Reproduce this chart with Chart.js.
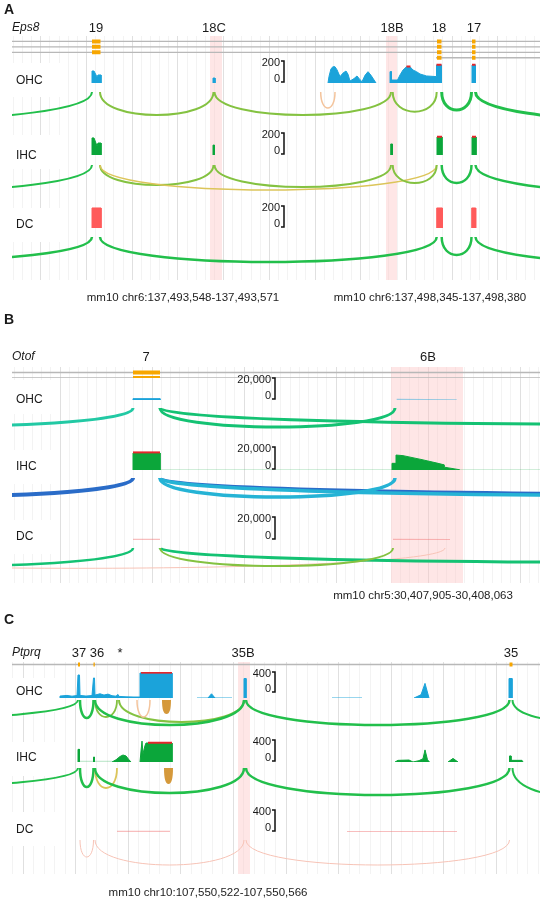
<!DOCTYPE html>
<html>
<head>
<meta charset="utf-8">
<script src="https://cdn.jsdelivr.net/npm/chart.js@4.4.1/dist/chart.umd.min.js"></script>
<style>
  body { margin: 0; background: #fff; width: 540px; height: 900px; position: relative; overflow: hidden; }
  canvas { position: absolute; left: 0; }
</style>
</head>
<body>
<canvas id="panelA" width="540" height="305" style="top:0px"></canvas>
<canvas id="panelB" width="540" height="300" style="top:305px"></canvas>
<canvas id="panelC" width="540" height="295" style="top:605px"></canvas>
<script>
// x values are positions along each locus window (0..528), coverage in reads,
// junctions: [from, to, arc depth, reads, colour class]

// ---------- A: Eps8 ----------
const epsExonLabels = ['19', '18C', '18B', '18', '17'];
const epsExonLabelX = [84, 202, 380, 427, 462];
const epsTranscripts = [[0, 528, 1], [0, 528, 2], [0, 528, 3], [424, 528, 4]];
const epsExons = [
  [80, 88.5, 1], [425, 429.5, 1], [460, 463.5, 1],
  [80, 88.5, 2], [425, 429.5, 2], [460, 463.5, 2],
  [80, 88.5, 3], [425, 429.5, 3], [460, 463.5, 3],
  [425, 429.5, 4], [460, 463.5, 4]
];
const epsHighlight = [[198, 210], [374, 385]];
const epsCovOHC = [
  [[80, 0], [80, 109], [82, 109], [85, 55], [86, 73], [89, 73], [89, 0]],
  [[201, 0], [201, 45], [203, 45], [203, 0]],
  [[316, 0], [317, 60], [319, 130], [321, 148], [323, 148], [325, 120], [328, 58], [331, 90], [334, 109], [336, 80], [338, 18], [342, 40], [345, 64], [348, 30], [350, 12], [353, 70], [356, 103], [359, 70], [364, 0]],
  [[378, 0], [378, 103], [379.5, 103], [379.5, 27], [385.5, 27], [388, 73], [391, 118], [394.5, 148], [398, 148], [401, 118], [404.5, 103], [408, 82], [414.5, 64], [424.5, 58], [424.5, 164], [429.5, 164], [429.5, 0]],
  [[460, 0], [460, 164], [463.5, 164], [463.5, 0]]
];
const epsClipOHC = [[[394.5, 150], [398.5, 150]], [[424.5, 166], [429.5, 166]], [[460, 166], [463.5, 166]]];
const epsCovIHC = [
  [[80, 0], [80, 155], [82, 155], [85, 82], [86, 109], [89, 109], [89, 0]],
  [[201, 0], [201, 90], [202.5, 90], [202.5, 0]],
  [[378.7, 0], [378.7, 100], [380.5, 100], [380.5, 0]],
  [[425, 0], [425, 164], [430, 164], [430, 0]],
  [[460, 0], [460, 164], [464, 164], [464, 0]]
];
const epsClipIHC = [[[425, 166], [430, 166]], [[460, 166], [464, 166]]];
const epsCovDC = [
  [[80, 0], [80, 182], [89, 182], [89, 0]],
  [[424.7, 0], [424.7, 182], [430.3, 182], [430.3, 0]],
  [[459.7, 0], [459.7, 182], [463.7, 182], [463.7, 0]]
];
const epsJuncOHC = [
  [-300, 80, 36.5, 100, 'g'],
  [88, 201.5, 32, 100, 'l'],
  [202.5, 379, 32, 100, 'l'],
  [380.7, 424.7, 28.7, 100, 'l'],
  [429.7, 459.5, 27, 1000, 'g'],
  [463.5, 800, 37.4, 1000, 'g'],
  [308.7, 323, 25, 32, 'p']
];
const epsJuncIHC = [
  [-300, 80, 36.3, 100, 'g'],
  [88, 201.5, 30, 100, 'l'],
  [88, 424.7, 35, 32, 't'],
  [202.5, 379, 32, 100, 'l'],
  [380.7, 424.7, 28, 100, 'l'],
  [429.7, 459.5, 28, 316, 'g'],
  [463.5, 800, 37.2, 316, 'g']
];
const epsJuncDC = [
  [-300, 80, 33, 316, 'g'],
  [88, 424.7, 34, 316, 'g'],
  [429.7, 459.5, 27, 316, 'g'],
  [463.5, 800, 35, 316, 'g']
];
const epsCoordLabels = ['mm10 chr6:137,493,548-137,493,571', 'mm10 chr6:137,498,345-137,498,380'];
const epsCoordX = [171, 418];

// ---------- B: Otof ----------
const otofExonLabels = ['7', '6B'];
const otofExonLabelX = [134, 416];
const otofTranscripts = [[0, 528, 1], [0, 528, 2]];
const otofExons = [[121, 148, 1], [121, 148, 2]];
const otofHighlight = [[379, 451]];
const otofCovOHC = [[[121, 0], [121, 1200], [148, 1200], [148, 0]]];
const otofFaintOHC = [[[384.7, 500], [414, 400], [444.7, 150]]];
const otofCovIHC = [
  [[121, 0], [121, 14800], [148, 14800], [148, 0]],
  [[380, 0], [380, 5800], [384, 5800], [384, 13000], [391, 12500], [410, 9000], [425, 6000], [432, 4500], [432, 2500], [447, 300], [448, 0]]
];
const otofClipIHC = [[[121, 15300], [148, 15300]]];
const otofFaintIHC = [[[148, 200], [380, 200]], [[448, 200], [528, 200]]];
const otofFaintDC = [[[121, 500], [148, 500]], [[381, 500], [438, 400]]];
const otofJuncOHC = [
  [-300, 121, 26.6, 1000, 'q'],
  [148, 1100, 24.3, 1000, 'm'],
  [148, 383, 27, 1000, 'm']
];
const otofJuncIHC = [
  [148, 1300, 24, 1000, 'b'],
  [-300, 121, 26.6, 10000, 'b'],
  [148, 1100, 25.3, 3162, 'c'],
  [148, 383, 27, 3162, 'c']
];
const otofJuncDC = [
  [-300, 433, 28.3, 10, 'r'],
  [-300, 121, 26.6, 316, 'm'],
  [148, 1100, 22.3, 1000, 'm'],
  [148, 381, 26, 100, 'l']
];
const otofCoordLabels = ['mm10 chr5:30,407,905-30,408,063'];
const otofCoordX = [411];

// ---------- C: Ptprq ----------
const ptprqExonLabels = ['37', '36', '*', '35B', '35'];
const ptprqExonLabelX = [67, 85, 108, 231, 499];
const ptprqTranscripts = [[0, 528, 1]];
const ptprqExons = [[66, 68, 1], [81.5, 82.8, 1], [497.5, 500.5, 1]];
const ptprqHighlight = [[226, 238]];
const ptprqCovOHC = [
  [[48, 0], [48, 30], [55, 40], [60, 28], [65, 38], [66, 354], [67.5, 354], [68, 40], [74, 30], [80, 38], [81.5, 308], [82.5, 308], [83, 45], [88, 65], [92, 45], [96, 60], [100, 35], [104, 28], [106, 55], [107, 25], [114, 18], [122, 15], [128, 15], [128, 385], [160, 385], [160, 0]],
  [[196, 0], [199.5, 65], [203, 0]],
  [[232, 0], [232, 300], [234, 300], [234, 0]],
  [[402, 0], [409, 50], [413, 225], [417, 0]],
  [[497, 0], [497, 300], [500, 300], [500, 0]]
];
const ptprqClipOHC = [[[129, 390], [160, 390]]];
const ptprqFaintOHC = [[[185, 8], [220, 8]], [[320, 8], [350, 8]]];
const ptprqCovIHC = [
  [[66, 0], [66, 230], [67.5, 230], [67.5, 0]],
  [[81.5, 0], [81.5, 90], [82.5, 90], [82.5, 0]],
  [[100, 0], [104, 40], [108, 100], [111, 127], [114, 110], [117, 40], [119, 0]],
  [[128, 0], [129, 200], [130, 380], [131, 150], [133, 300], [134, 345], [160, 345], [160, 0]],
  [[383, 0], [386, 30], [397, 36], [401, 0]],
  [[401, 0], [407, 25], [411, 60], [413, 220], [415.5, 40], [417.5, 0]],
  [[436, 0], [441, 65], [446, 0]],
  [[497.5, 0], [497.5, 110], [499, 110], [499, 30], [510, 30], [511, 0]]
];
const ptprqClipIHC = [[[136, 350], [160, 350]]];
const ptprqFaintIHC = [[[68, 12], [100, 12]]];
const ptprqFaintDC = [[[105, 10], [158, 10]], [[335, 8], [445, 8]]];
const ptprqJuncOHC = [
  [-300, 66, 20.9, 100, 'g'],
  [68, 81.5, 20, 316, 'g'],
  [83, 105, 19, 63, 'l'],
  [107, 232, 24, 100, 'l'],
  [83, 232, 27, 316, 'g'],
  [234, 497.5, 27, 316, 'g'],
  [500.5, 620, 23, 100, 'g'],
  [125, 138, 19, 32, 'p'],
  [151, 158, 15, 100, 'a']
];
const ptprqJuncIHC = [
  [-300, 66, 25, 100, 'g'],
  [68, 81.5, 25, 316, 'g'],
  [83, 105, 26, 63, 't'],
  [83, 232, 31, 316, 'g'],
  [234, 497.5, 33, 316, 'g'],
  [500.5, 620, 34, 100, 'g'],
  [153, 160, 21, 100, 'a']
];
const ptprqJuncDC = [
  [68, 81.5, 25, 10, 'r'],
  [83, 232, 33, 10, 'r'],
  [234, 497.5, 33, 10, 'r']
];
const ptprqCoordLabels = ['mm10 chr10:107,550,522-107,550,566'];
const ptprqCoordX = [196];

const trackNames = ['OHC', 'IHC', 'DC'];

// ---------- styles ----------
const FONT = '"Liberation Sans", Arial, sans-serif';
const covColors = ['#1ba3da', '#0ba63a', '#ff5a5a'];
const faintColors = ['rgba(27,163,218,0.45)', 'rgba(11,166,58,0.25)', 'rgba(240,110,110,0.45)'];
const clipColor = '#e5262b';
const arcColors = {
  g: '#22bf4b', l: '#84c241', t: '#dcc55a', p: '#f4c49c', b: '#2a6cc8',
  c: '#25b3d5', q: '#22c9a4', m: '#14c273', r: '#f7c3b6', a: '#d5993b'
};
const bandIds = ['gene', 'cov0', 'arc0', 'cov1', 'arc1', 'cov2', 'arc2'];

function toPoints(segs) {
  const out = [];
  segs.forEach((seg, i) => {
    if (i > 0) out.push({ x: seg[0][0], y: null });
    seg.forEach(([x, y]) => out.push({ x, y }));
  });
  return out;
}

function gridTicks(g) {
  const ticks = [];
  for (let i = -20; i < 200; i++) {
    const v = g.start + i * g.step;
    if (v < 0 || v > 528) continue;
    ticks.push({ value: v, major: ((i % g.sub) + g.sub) % g.sub === 0 });
  }
  return ticks;
}

function drawPanel(canvasId, d, look) {
  const ticks = gridTicks(look.grid);
  const scales = {
    x: {
      type: 'linear', min: 0, max: 528, position: 'bottom',
      ticks: { display: false }, border: { display: false },
      grid: { drawTicks: false, lineWidth: 1, color: c => (ticks[c.index] && ticks[c.index].major) ? '#e0e0e0' : '#f3f3f3' },
      afterBuildTicks: s => { s.ticks = ticks.map(t => ({ value: t.value })); },
      afterFit: s => { s.height = 0; }
    }
  };
  bandIds.forEach((id, k) => {
    const isCov = id.startsWith('cov');
    scales[id] = {
      type: 'linear', position: 'right', stack: 'trk', stackWeight: look.bands[k],
      min: 0, max: id === 'gene' ? look.geneMax : (isCov ? d.covMax : look.bands[k]),
      reverse: !isCov,
      ticks: { display: false }, grid: { display: false }, border: { display: false },
      afterFit: s => { s.width = 0; }
    };
  });

  const datasets = [
    { data: toPoints(d.transcripts.map(([s, e, r]) => [[s, r], [e, r]])), yAxisID: 'gene', borderColor: '#b8b8b8', borderWidth: 1.3, order: 5 },
    { data: toPoints(d.exons.map(([s, e, r]) => [[s, r], [e, r]])), yAxisID: 'gene', borderColor: '#f7a600', borderWidth: 4, borderCapStyle: 'butt', order: 4 }
  ];
  d.tracks.forEach((t, i) => {
    datasets.push({ data: toPoints(t.clip || []), yAxisID: 'cov' + i, borderColor: clipColor, borderWidth: 2, order: 0 });
    datasets.push({ data: toPoints(t.cov || []), yAxisID: 'cov' + i, borderColor: covColors[i], backgroundColor: covColors[i], borderWidth: 1, fill: 'origin', order: 1 });
    datasets.push({ data: toPoints(t.faint || []), yAxisID: 'cov' + i, borderColor: faintColors[i], borderWidth: 1.2, order: 2 });
  });

  const sashimi = {
    id: 'sashimi',
    beforeDatasetsDraw(chart) {
      const { ctx, chartArea: a, scales: sc } = chart;
      ctx.save();
      ctx.fillStyle = 'rgba(252, 196, 196, 0.42)';
      d.highlight.forEach(([s, e]) => {
        const x1 = sc.x.getPixelForValue(s), x2 = sc.x.getPixelForValue(e);
        ctx.fillRect(x1, a.top, x2 - x1, a.bottom - a.top);
      });
      ctx.fillStyle = '#fff';
      d.tracks.forEach((t, i) => {
        const y = sc['cov' + i].getPixelForValue(0);
        ctx.fillRect(a.left, y - 20, 48, 34);
      });
      ctx.restore();
    },
    afterDatasetsDraw(chart) {
      const { ctx, chartArea: a, scales: sc } = chart;
      const xs = sc.x;
      ctx.save();
      ctx.beginPath();
      ctx.rect(a.left, a.top, a.right - a.left, a.bottom - a.top);
      ctx.clip();
      d.tracks.forEach((t, i) => {
        const ys = sc['arc' + i];
        const y0 = ys.getPixelForValue(look.arcStart[i]);
        t.junc.forEach(([from, to, depth, reads, kind]) => {
          const x1 = xs.getPixelForValue(from), x2 = xs.getPixelForValue(to);
          const c = y0 + (ys.getPixelForValue(depth) - y0) / 0.75;
          ctx.beginPath();
          ctx.moveTo(x1, y0);
          ctx.bezierCurveTo(x1, c, x2, c, x2, y0);
          if (kind === 'a') { ctx.fillStyle = arcColors.a; ctx.fill(); }
          ctx.lineWidth = Math.log10(reads);
          ctx.strokeStyle = arcColors[kind];
          ctx.stroke();
        });
      });
      ctx.restore();

      ctx.save();
      ctx.fillStyle = '#1a1a1a';
      ctx.textBaseline = 'middle';
      ctx.textAlign = 'left';
      ctx.font = 'bold 14px ' + FONT;
      ctx.fillText(d.letter, 4, look.letterY);
      ctx.font = 'italic 12px ' + FONT;
      ctx.fillText(d.gene, a.left, a.top - look.titleGap);
      ctx.font = '13px ' + FONT;
      ctx.textAlign = 'center';
      d.exonLabels.forEach((s, k) => ctx.fillText(s, xs.getPixelForValue(d.exonLabelX[k]), a.top - look.titleGap));

      d.tracks.forEach((t, i) => {
        const cs = sc['cov' + i];
        const yb = cs.getPixelForValue(0), yt = cs.getPixelForValue(d.covMax);
        ctx.textAlign = 'left';
        ctx.font = '12px ' + FONT;
        ctx.fillText(trackNames[i], a.left + 4, yb - look.labelLift[i]);
        // scale bar
        const xb = xs.getPixelForValue(d.barX);
        const yz = yb - look.zeroLift[i];
        ctx.strokeStyle = '#111';
        ctx.lineWidth = 1.5;
        ctx.beginPath();
        ctx.moveTo(xb - 3, yt); ctx.lineTo(xb, yt); ctx.lineTo(xb, yz - 1); ctx.lineTo(xb - 3, yz - 1);
        ctx.stroke();
        ctx.textAlign = 'right';
        ctx.font = '11px ' + FONT;
        ctx.fillText(d.barText, xb - 4, yt + 2);
        ctx.fillText('0', xb - 4, yz - 4);
      });

      ctx.textAlign = 'center';
      ctx.font = '11.5px ' + FONT;
      ctx.fillStyle = '#222';
      d.coordLabels.forEach((s, k) => ctx.fillText(s, xs.getPixelForValue(d.coordX[k]), a.bottom + look.coordGap));
      ctx.restore();
    }
  };

  new Chart(document.getElementById(canvasId), {
    type: 'line',
    data: { datasets },
    options: {
      responsive: false,
      animation: false,
      devicePixelRatio: 1,
      events: [],
      layout: { padding: { left: 12, right: 0, top: look.padTop, bottom: look.padBottom } },
      elements: { point: { radius: 0 }, line: { tension: 0, borderJoinStyle: 'miter' } },
      plugins: { legend: { display: false }, tooltip: { enabled: false } },
      scales
    },
    plugins: [sashimi]
  });
}

drawPanel('panelA', {
  letter: 'A', gene: 'Eps8', exonLabels: epsExonLabels, exonLabelX: epsExonLabelX,
  transcripts: epsTranscripts, exons: epsExons, highlight: epsHighlight,
  covMax: 200, barText: '200', barX: 272,
  tracks: [
    { cov: epsCovOHC, clip: epsClipOHC, junc: epsJuncOHC },
    { cov: epsCovIHC, clip: epsClipIHC, junc: epsJuncIHC },
    { cov: epsCovDC, junc: epsJuncDC }
  ],
  coordLabels: epsCoordLabels, coordX: epsCoordX
}, {
  padTop: 36, padBottom: 25, bands: [25, 22, 50, 22, 51, 22, 52], geneMax: 4.6,
  grid: { start: 28.8, step: 9.14, sub: 5 }, arcStart: [9, 10, 9], labelLift: [2, -1, 3], zeroLift: [0, 0, 0],
  titleGap: 8, coordGap: 18, letterY: 10
});

drawPanel('panelB', {
  letter: 'B', gene: 'Otof', exonLabels: otofExonLabels, exonLabelX: otofExonLabelX,
  transcripts: otofTranscripts, exons: otofExons, highlight: otofHighlight,
  covMax: 20000, barText: '20,000', barX: 263,
  tracks: [
    { cov: otofCovOHC, faint: otofFaintOHC, junc: otofJuncOHC },
    { cov: otofCovIHC, clip: otofClipIHC, faint: otofFaintIHC, junc: otofJuncIHC },
    { faint: otofFaintDC, junc: otofJuncDC }
  ],
  coordLabels: otofCoordLabels, coordX: otofCoordX
}, {
  padTop: 62, padBottom: 22, bands: [11, 22, 47, 23, 47, 23, 43], geneMax: 2,
  grid: { start: 48, step: 9.2, sub: 10 }, arcStart: [8, 8, 8], labelLift: [0, 3, 3], zeroLift: [0, 0, 0],
  titleGap: 10, coordGap: 13, letterY: 15
});

drawPanel('panelC', {
  letter: 'C', gene: 'Ptprq', exonLabels: ptprqExonLabels, exonLabelX: ptprqExonLabelX,
  transcripts: ptprqTranscripts, exons: ptprqExons, highlight: ptprqHighlight,
  covMax: 400, barText: '400', barX: 263,
  tracks: [
    { cov: ptprqCovOHC, clip: ptprqClipOHC, faint: ptprqFaintOHC, junc: ptprqJuncOHC },
    { cov: ptprqCovIHC, clip: ptprqClipIHC, faint: ptprqFaintIHC, junc: ptprqJuncIHC },
    { faint: ptprqFaintDC, junc: ptprqJuncDC }
  ],
  coordLabels: ptprqCoordLabels, coordX: ptprqCoordX
}, {
  padTop: 57, padBottom: 26, bands: [10, 26, 42, 22, 48, 22, 42], geneMax: 4,
  grid: { start: 11, step: 10.52, sub: 5 }, arcStart: [2, 6, 8], labelLift: [6, 4, 2], zeroLift: [5, 0, 0],
  titleGap: 9, coordGap: 19, letterY: 15
});
</script>
</body>
</html>
